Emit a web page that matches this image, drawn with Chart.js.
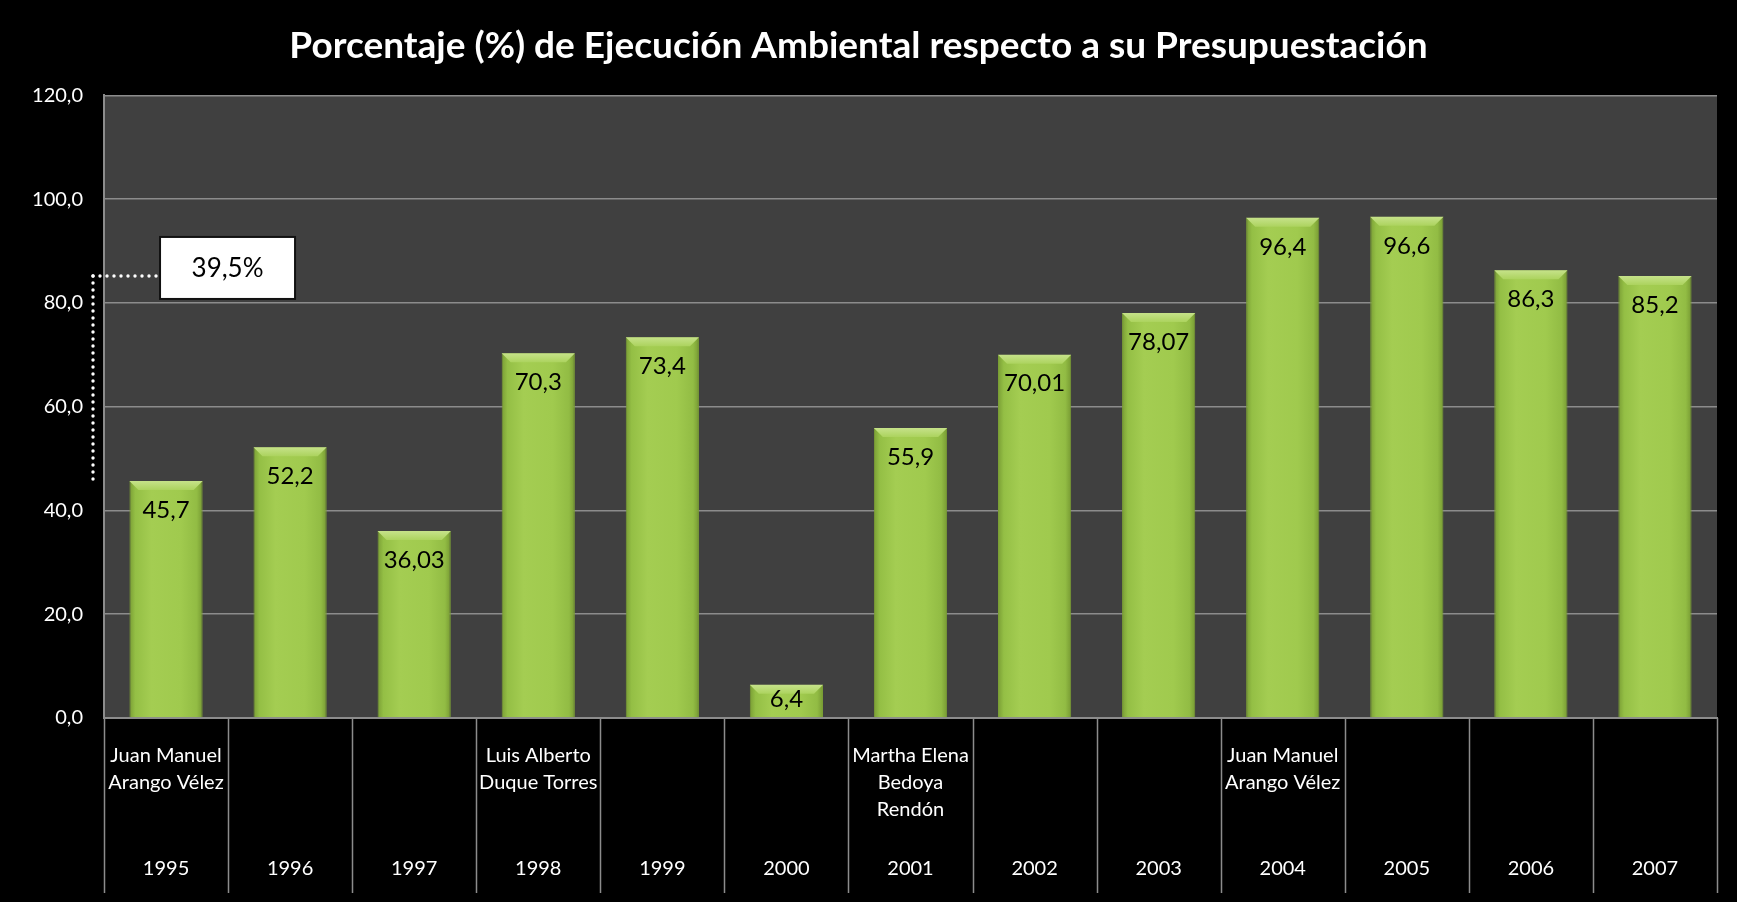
<!DOCTYPE html>
<html>
<head>
<meta charset="utf-8">
<script src="https://cdn.jsdelivr.net/npm/chart.js@4"></script>
<style>
    body { margin: 0; background: #000; }
    canvas { display: block; }
</style>
</head>
<body>
<canvas id="myChart" width="1737" height="902"></canvas>
<script>
let years = ['1995', '1996', '1997', '1998', '1999', '2000', '2001', '2002', '2003', '2004', '2005', '2006', '2007']
let values = [45.7, 52.2, 36.03, 70.3, 73.4, 6.4, 55.9, 70.01, 78.07, 96.4, 96.6, 86.3, 85.2]
let alcaldes = [
    ['Juan Manuel', 'Arango Vélez'], [], [],
    ['Luis Alberto', 'Duque Torres'], [], [],
    ['Martha Elena', 'Bedoya', 'Rendón'], [], [],
    ['Juan Manuel', 'Arango Vélez'], [], [], []
]
let yTicks = [0, 20, 40, 60, 80, 100, 120]
let bracketFrom = 0   // 1995
let bracketTo = 12    // 2007

let title = 'Porcentaje (%) de Ejecución Ambiental respecto a su Presupuestación'
let font = 'Lato, "Open Sans", sans-serif'
let barPct = 0.59
let gridColor = '#8c8c8c'

function fmt(v, dec){
    return (dec === undefined ? String(v) : v.toFixed(dec)).replace('.', ',')
}

function barFill(ctx){
    let chart = ctx.chart
    let x = chart.scales.x
    if(!x || ctx.dataIndex === undefined) return '#9ec94a'
    let c = x.getPixelForValue(ctx.dataIndex)
    let w = x.getPixelForValue(1) - x.getPixelForValue(0)
    if(!isFinite(c) || !isFinite(w)) return '#9ec94a'
    let half = w * barPct / 2
    let g = chart.ctx.createLinearGradient(c - half, 0, c + half, 0)
    g.addColorStop(0, '#7a9e35')
    g.addColorStop(0.08, '#94bf45')
    g.addColorStop(0.3, '#a4cd52')
    g.addColorStop(0.7, '#a0ca4e')
    g.addColorStop(0.92, '#92bc44')
    g.addColorStop(1, '#779a33')
    return g
}

let background = {
    id: 'background',
    beforeDraw(chart){
        let ctx = chart.ctx
        let a = chart.chartArea
        ctx.save()
        ctx.fillStyle = '#000'
        ctx.fillRect(0, 0, chart.width, chart.height)
        ctx.fillStyle = '#404040'
        ctx.fillRect(a.left, a.top, a.right - a.left, a.bottom - a.top)
        ctx.restore()
    }
}

let bevel = {
    id: 'bevel',
    afterDatasetsDraw(chart){
        let ctx = chart.ctx
        let meta = chart.getDatasetMeta(0)
        ctx.save()
        meta.data.forEach(bar => {
            let l = bar.x - bar.width / 2
            let r = bar.x + bar.width / 2
            let t = bar.y
            let g = ctx.createLinearGradient(0, t, 0, t + 9)
            g.addColorStop(0, '#c6e28a')
            g.addColorStop(1, '#acd35e')
            ctx.fillStyle = g
            ctx.beginPath()
            ctx.moveTo(l, t)
            ctx.lineTo(r, t)
            ctx.lineTo(r - 9, t + 9)
            ctx.lineTo(l + 9, t + 9)
            ctx.closePath()
            ctx.fill()
        })
        ctx.restore()
    }
}

let barLabels = {
    id: 'barLabels',
    afterDatasetsDraw(chart){
        let ctx = chart.ctx
        let meta = chart.getDatasetMeta(0)
        ctx.save()
        ctx.font = '24px ' + font
        ctx.fillStyle = '#000'
        ctx.textAlign = 'center'
        ctx.textBaseline = 'middle'
        meta.data.forEach((bar, i) => {
            let y = Math.min(bar.y + 29, (bar.y + bar.base) / 2 - 2)
            ctx.fillText(fmt(values[i]), bar.x, y)
        })
        ctx.restore()
    }
}

let categoryAxis = {
    id: 'categoryAxis',
    afterDraw(chart){
        let ctx = chart.ctx
        let x = chart.scales.x
        let a = chart.chartArea
        let step = x.getPixelForValue(1) - x.getPixelForValue(0)
        ctx.save()
        ctx.strokeStyle = gridColor
        ctx.lineWidth = 1.5
        for (let i = 0; i <= years.length; i++) {
            let px = Math.round(x.getPixelForValue(i) - step / 2) + 0.5
            ctx.beginPath()
            ctx.moveTo(px, a.bottom)
            ctx.lineTo(px, a.bottom + 175)
            ctx.stroke()
        }
        ctx.fillStyle = '#fff'
        ctx.textAlign = 'center'
        ctx.textBaseline = 'middle'
        ctx.font = '20px ' + font
        for (let i = 0; i < years.length; i++) {
            let cx = x.getPixelForValue(i)
            alcaldes[i].forEach((line, k) => {
                ctx.fillText(line, cx, a.bottom + 38 + k * 27)
            })
            ctx.fillText(years[i], cx, a.bottom + 151)
        }
        ctx.restore()
    }
}

let bracket = {
    id: 'bracket',
    afterDraw(chart){
        let ctx = chart.ctx
        let x = chart.scales.x
        let y = chart.scales.y
        let a = chart.chartArea
        let top = y.getPixelForValue(values[bracketTo])
        let bottom = y.getPixelForValue(values[bracketFrom])
        let lx = a.left - 11
        let boxL = x.getPixelForValue(bracketFrom) - 6
        let boxW = 135
        let boxH = 62
        ctx.save()
        ctx.fillStyle = '#fff'
        for (let py = top; py <= bottom; py += 7) {
            ctx.beginPath()
            ctx.arc(lx, py, 1.7, 0, Math.PI * 2)
            ctx.fill()
        }
        for (let px = lx; px <= boxL - 4; px += 7) {
            ctx.beginPath()
            ctx.arc(px, top, 1.7, 0, Math.PI * 2)
            ctx.fill()
        }
        let by = top - boxH / 2 - 8
        ctx.fillRect(boxL, by, boxW, boxH)
        ctx.strokeStyle = '#111'
        ctx.lineWidth = 2
        ctx.strokeRect(boxL, by, boxW, boxH)
        ctx.fillStyle = '#000'
        ctx.font = '26px ' + font
        ctx.textAlign = 'center'
        ctx.textBaseline = 'middle'
        let diff = values[bracketTo] - values[bracketFrom]
        ctx.fillText(fmt(diff, 1) + '%', boxL + boxW / 2, by + boxH / 2 + 1)
        ctx.restore()
    }
}

let chart = new Chart('myChart', {
    type: 'bar',
    data: {
        labels: years,
        datasets: [{
            data: values,
            backgroundColor: barFill,
            borderColor: '#7a9e35',
            borderWidth: 1,
            categoryPercentage: 1,
            barPercentage: barPct
        }]
    },
    options: {
        responsive: false,
        animation: false,
        layout: { padding: { left: 0, right: 20, top: 0, bottom: 0 } },
        plugins: {
            legend: { display: false },
            tooltip: { enabled: false },
            title: {
                display: true,
                text: title,
                color: '#fff',
                font: { family: font, size: 37, weight: 'bold' },
                padding: { top: 24, bottom: 27 }
            }
        },
        scales: {
            x: {
                grid: { display: false },
                border: { color: gridColor, width: 2 },
                ticks: { display: false },
                afterFit: s => { s.height = 184 }
            },
            y: {
                min: yTicks[0],
                max: yTicks[yTicks.length - 1],
                afterBuildTicks: s => { s.ticks = yTicks.map(v => ({ value: v })) },
                grid: { color: gridColor, lineWidth: 1.5, drawTicks: false },
                border: { color: gridColor, width: 2 },
                ticks: {
                    color: '#fff',
                    font: { family: font, size: 20 },
                    padding: 21,
                    callback: v => fmt(v, 1)
                },
                afterFit: s => { s.width = 104 }
            }
        }
    },
    plugins: [background, bevel, barLabels, categoryAxis, bracket]
})
</script>
</body>
</html>
